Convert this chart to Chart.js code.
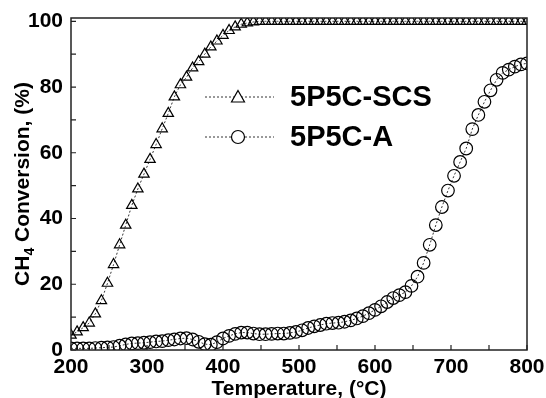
<!DOCTYPE html>
<html>
<head>
<meta charset="utf-8">
<script src="https://cdn.jsdelivr.net/npm/chart.js@4"></script>
<style>
  html, body { margin: 0; padding: 0; background: #fff; }
  canvas { display: block; }
</style>
</head>
<body>
<canvas id="chart" width="546" height="398"></canvas>
<script>
// temperatures, one reading every 8 degC
const temperatures = [];
for (let t = 200; t <= 800; t += 8) temperatures.push(t);

const scsValues = [
  4.5, 5.5, 6.8, 8.2, 11, 15, 20.3, 26, 32, 38,
  44, 49, 53.5, 58, 62.5, 67.3, 72, 77, 80.7, 83,
  85.8, 87.7, 90, 92.2, 94, 95.7, 97.2, 98.3, 99.1, 99.5,
  99.8, 100, 100, 100, 100, 100, 100, 100, 100, 100,
  100, 100, 100, 100, 100, 100, 100, 100, 100, 100,
  100, 100, 100, 100, 100, 100, 100, 100, 100, 100,
  100, 100, 100, 100, 100, 100, 100, 100, 100, 100,
  100, 100, 100, 100, 100, 100
];

const aValues = [
  0.5, 0.5, 0.5, 0.5, 0.6, 0.7, 0.8, 0.9, 1.3, 1.7,
  2.0, 2.1, 2.2, 2.4, 2.6, 2.7, 3.0, 3.2, 3.5, 3.6,
  3.2, 2.5, 1.8, 1.6, 2.4, 3.5, 4.3, 4.9, 5.3, 5.3,
  5.0, 4.8, 4.8, 4.9, 5.0, 5.0, 5.2, 5.5, 6.0, 6.7,
  7.2, 7.6, 8.0, 8.2, 8.3, 8.6, 9.0, 9.6, 10.3, 11.2,
  12.2, 13.3, 14.6, 15.8, 16.7, 17.6, 19.5, 22.3, 26.5, 32,
  38, 43.5, 48.5, 53, 57.2, 61.3, 67.2, 71.5, 75.5, 79,
  82.2, 84.3, 85.3, 86.2, 86.9, 87.2
];

const seriesNames = ['5P5C-SCS', '5P5C-A'];
const xTickLabels = [200, 300, 400, 500, 600, 700, 800];
const yTickLabels = [0, 20, 40, 60, 80, 100];

const FONT = '"Liberation Sans", Arial, sans-serif';

function toPoints(vals) {
  return vals.map((v, i) => ({ x: temperatures[i], y: v }));
}

// frame, inward ticks, axis titles, in-plot legend
const decorations = {
  id: 'decorations',
  afterDraw(chart) {
    const ctx = chart.ctx;
    const a = chart.chartArea;
    const xs = chart.scales.x, ys = chart.scales.y;
    ctx.save();
    ctx.strokeStyle = '#222';
    ctx.lineWidth = 1.5;
    ctx.strokeRect(a.left, a.top, a.right - a.left, a.bottom - a.top);

    ctx.lineWidth = 1.2;
    ctx.beginPath();
    for (let t = 200; t <= 800; t += 50) {
      const px = xs.getPixelForValue(t);
      ctx.moveTo(px, a.bottom); ctx.lineTo(px, a.bottom - 5);
    }
    for (let v = 0; v <= 100; v += 10) {
      const py = ys.getPixelForValue(v);
      ctx.moveTo(a.left, py); ctx.lineTo(a.left + 5, py);
    }
    ctx.stroke();

    // axis titles
    ctx.fillStyle = '#000';
    ctx.font = 'bold 21px ' + FONT;
    ctx.textAlign = 'center';
    ctx.textBaseline = 'alphabetic';
    ctx.fillText('Temperature, (°C)', (a.left + a.right) / 2, 395);

    ctx.save();
    ctx.translate(28.5, (a.top + a.bottom) / 2);
    ctx.rotate(-Math.PI / 2);
    const p1 = 'CH', sub = '4', p2 = ' Conversion, (%)';
    ctx.font = 'bold 21px ' + FONT;
    const w1 = ctx.measureText(p1).width, w3 = ctx.measureText(p2).width;
    ctx.font = 'bold 14px ' + FONT;
    const w2 = ctx.measureText(sub).width;
    let x0 = -(w1 + w2 + w3) / 2;
    ctx.textAlign = 'left';
    ctx.font = 'bold 21px ' + FONT;
    ctx.fillText(p1, x0, 0);
    ctx.font = 'bold 14px ' + FONT;
    ctx.fillText(sub, x0 + w1, 5);
    ctx.font = 'bold 21px ' + FONT;
    ctx.fillText(p2, x0 + w1 + w2, 0);
    ctx.restore();

    // legend
    const rows = [{ y: 97, style: 'triangle' }, { y: 137, style: 'circle' }];
    rows.forEach((r, i) => {
      ctx.strokeStyle = '#333';
      ctx.lineWidth = 1;
      ctx.setLineDash([2, 2]);
      ctx.beginPath();
      ctx.moveTo(205, r.y); ctx.lineTo(274, r.y);
      ctx.stroke();
      ctx.setLineDash([]);
      ctx.fillStyle = '#fff';
      ctx.strokeStyle = '#000';
      ctx.lineWidth = 1.2;
      ctx.beginPath();
      if (r.style === 'triangle') {
        ctx.moveTo(238, r.y - 6.5); ctx.lineTo(244.5, r.y + 5); ctx.lineTo(231.5, r.y + 5); ctx.closePath();
      } else {
        ctx.arc(238, r.y, 6.5, 0, Math.PI * 2);
      }
      ctx.fill(); ctx.stroke();
      ctx.fillStyle = '#000';
      ctx.font = 'bold 29px ' + FONT;
      ctx.textAlign = 'left';
      ctx.textBaseline = 'middle';
      ctx.fillText(seriesNames[i], 290, r.y + 1);
    });
    ctx.restore();
  }
};

new Chart(document.getElementById('chart'), {
  type: 'line',
  data: {
    datasets: [
      {
        label: seriesNames[0],
        data: toPoints(scsValues),
        borderColor: '#333',
        borderWidth: 1,
        borderDash: [2, 2],
        pointStyle: 'triangle',
        pointRadius: 6,
        pointBorderColor: '#000',
        pointBorderWidth: 1.2,
        pointBackgroundColor: 'rgba(0,0,0,0)',
        tension: 0
      },
      {
        label: seriesNames[1],
        data: toPoints(aValues),
        borderColor: '#333',
        borderWidth: 1,
        borderDash: [2, 2],
        pointStyle: 'circle',
        pointRadius: 6.3,
        pointBorderColor: '#000',
        pointBorderWidth: 1.2,
        pointBackgroundColor: 'rgba(0,0,0,0)',
        tension: 0
      }
    ]
  },
  options: {
    responsive: false,
    animation: false,
    devicePixelRatio: 1,
    layout: { padding: { top: 18, right: 19, left: 0, bottom: 0 } },
    plugins: { legend: { display: false }, tooltip: { enabled: false } },
    scales: {
      x: {
        type: 'linear',
        min: 200, max: 800,
        afterFit: (s) => { s.height = 48; s.paddingLeft = 0; s.paddingRight = 0; },
        grid: { display: false, drawTicks: false },
        border: { display: false },
        afterBuildTicks: (s) => { s.ticks = xTickLabels.map(v => ({ value: v })); },
        ticks: {
          padding: 5,
          maxRotation: 0,
          autoSkip: false,
          color: '#000',
          font: { family: FONT, size: 21, weight: 'bold' }
        }
      },
      y: {
        min: 0, max: 101,
        afterFit: (s) => { s.width = 71; s.paddingTop = 0; s.paddingBottom = 0; },
        grid: { display: false, drawTicks: false },
        border: { display: false },
        afterBuildTicks: (s) => { s.ticks = yTickLabels.map(v => ({ value: v })); },
        ticks: {
          padding: 8,
          autoSkip: false,
          color: '#000',
          font: { family: FONT, size: 21, weight: 'bold' }
        }
      }
    }
  },
  plugins: [decorations]
});
</script>
</body>
</html>
